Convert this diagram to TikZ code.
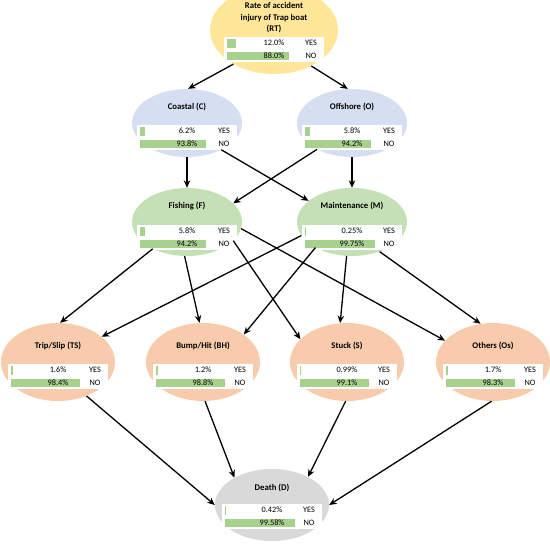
\documentclass[tikz,border=0pt]{standalone}
\usepackage{fontspec}
\setmainfont{Carlito}
\usetikzlibrary{arrows.meta,shapes.geometric}
\definecolor{rtfill}{HTML}{FFE699}
\definecolor{blufill}{HTML}{D6DEF1}
\definecolor{grnfill}{HTML}{C5E0B4}
\definecolor{orgfill}{HTML}{F8CBAD}
\definecolor{gryfill}{HTML}{D9D9D9}
\definecolor{barfill}{HTML}{A9D18E}

\begin{document}
\begin{tikzpicture}[x=1pt,y=-1pt,>={Stealth[length=7.5pt,width=6.5pt]},
  bn/.style={ellipse,inner sep=0pt,minimum width=110pt,minimum height=68pt},
  bnlow/.style={bn,minimum width=114pt,minimum height=78pt},
  ttl/.style={font=\bfseries\fontsize{8.7}{11.5}\selectfont,align=center,inner sep=0pt},
  val/.style={font=\fontsize{8.3}{9}\selectfont,inner sep=0pt},
  link/.style={->,line width=1.3pt}]
% Wahrscheinlichkeitskasten: \probbox{Knoten}{y der YES-Zeile}{yes}{no}
\newcommand{\probbox}[4]{
  \begin{scope}[shift={(#1.center)}]
    \fill[white] (-50,#2-6) rectangle (50,#2+19);
    \fill[barfill,draw=barfill,line width=0.5pt] (-47,#2-4) rectangle ++({0.7*#3},8);
    \fill[barfill] (-47,#2+9) rectangle ++({0.7*#4},8);
    \node[val] (#1y)  at (0,#2)     {#3\%};
    \node[val] (#1n)  at (0,#2+13)  {#4\%};
    \node[val] (#1ys) at (37,#2)    {YES};
    \node[val] (#1ns) at (37,#2+13) {NO};
  \end{scope}}
\clip (0,0) rectangle (550,549);
% ---------- Ebene 1 ----------
\node[ellipse,inner sep=0pt,minimum width=128pt,minimum height=88pt,fill=rtfill] (RT) at (274,30) {};
\node[ttl] (RTt) at (274,18) {Rate of accident\\injury of Trap boat\\(RT)};
\probbox{RT}{13}{12.0}{88.0}
% ---------- Ebene 2 ----------
\node[bn,fill=blufill] (C) at (187,123) {};
\node[ttl] (Ct) at (187,107) {Coastal (C)};
\probbox{C}{8}{6.2}{93.8}
\node[bn,fill=blufill] (O) at (352,123) {};
\node[ttl] (Ot) at (352,107) {Offshore (O)};
\probbox{O}{8}{5.8}{94.2}
% ---------- Ebene 3 ----------
\node[bn,fill=grnfill] (F) at (187,222) {};
\node[ttl] (Ft) at (187,206) {Fishing (F)};
\probbox{F}{9}{5.8}{94.2}
\node[bn,fill=grnfill] (M) at (352,222) {};
\node[ttl] (Mt) at (352,206) {Maintenance (M)};
\probbox{M}{9}{0.25}{99.75}
% ---------- Ebene 4 ----------
\node[bnlow,fill=orgfill] (TS) at (58,362) {};
\node[ttl] (TSt) at (58,346) {Trip/Slip (TS)};
\probbox{TS}{8}{1.6}{98.4}
\node[bnlow,fill=orgfill] (BH) at (203,362) {};
\node[ttl] (BHt) at (203,346) {Bump/Hit (BH)};
\probbox{BH}{8}{1.2}{98.8}
\node[bnlow,fill=orgfill] (S) at (347,362) {};
\node[ttl] (St) at (347,346) {Stuck (S)};
\probbox{S}{8}{0.99}{99.1}
\node[bnlow,fill=orgfill] (Os) at (493,362) {};
\node[ttl] (Ost) at (493,346) {Others (Os)};
\probbox{Os}{8}{1.7}{98.3}
% ---------- Ebene 5 ----------
\node[bnlow,minimum height=72pt,fill=gryfill] (D) at (272,505) {};
\node[ttl] (Dt) at (272,488) {Death (D)};
\probbox{D}{5}{0.42}{99.58}
% ---------- Kanten ----------
\draw[link] (RT.220) -- (C.88);
\draw[link] (RT.316) -- (O.97);
\draw[link] (C.south) -- (F.north);
\draw[link] (O.south) -- (M.north);
\draw[link] (C.322) -- (M.154);
\draw[link] (O.217) -- (F.22);
\draw[link] (F.218) -- (TS.87);
\draw[link] (F.266) -- (BH.95);
\draw[link] (F.338) -- (S.154);
\draw[link] (F.353) -- (Os.156);
\draw[link] (M.195) -- (TS.30);
\draw[link] (M.215) -- (BH.34);
\draw[link] (M.261) -- (S.100);
\draw[link] (M.313) -- (Os.108);
\draw[link] (TS.310) -- (D.180);
\draw[link] (BH.273) -- (D.144);
\draw[link] (S.268) -- (D.38);
\draw[link] (Os.268) -- (D.0);
\end{tikzpicture}
\end{document}
